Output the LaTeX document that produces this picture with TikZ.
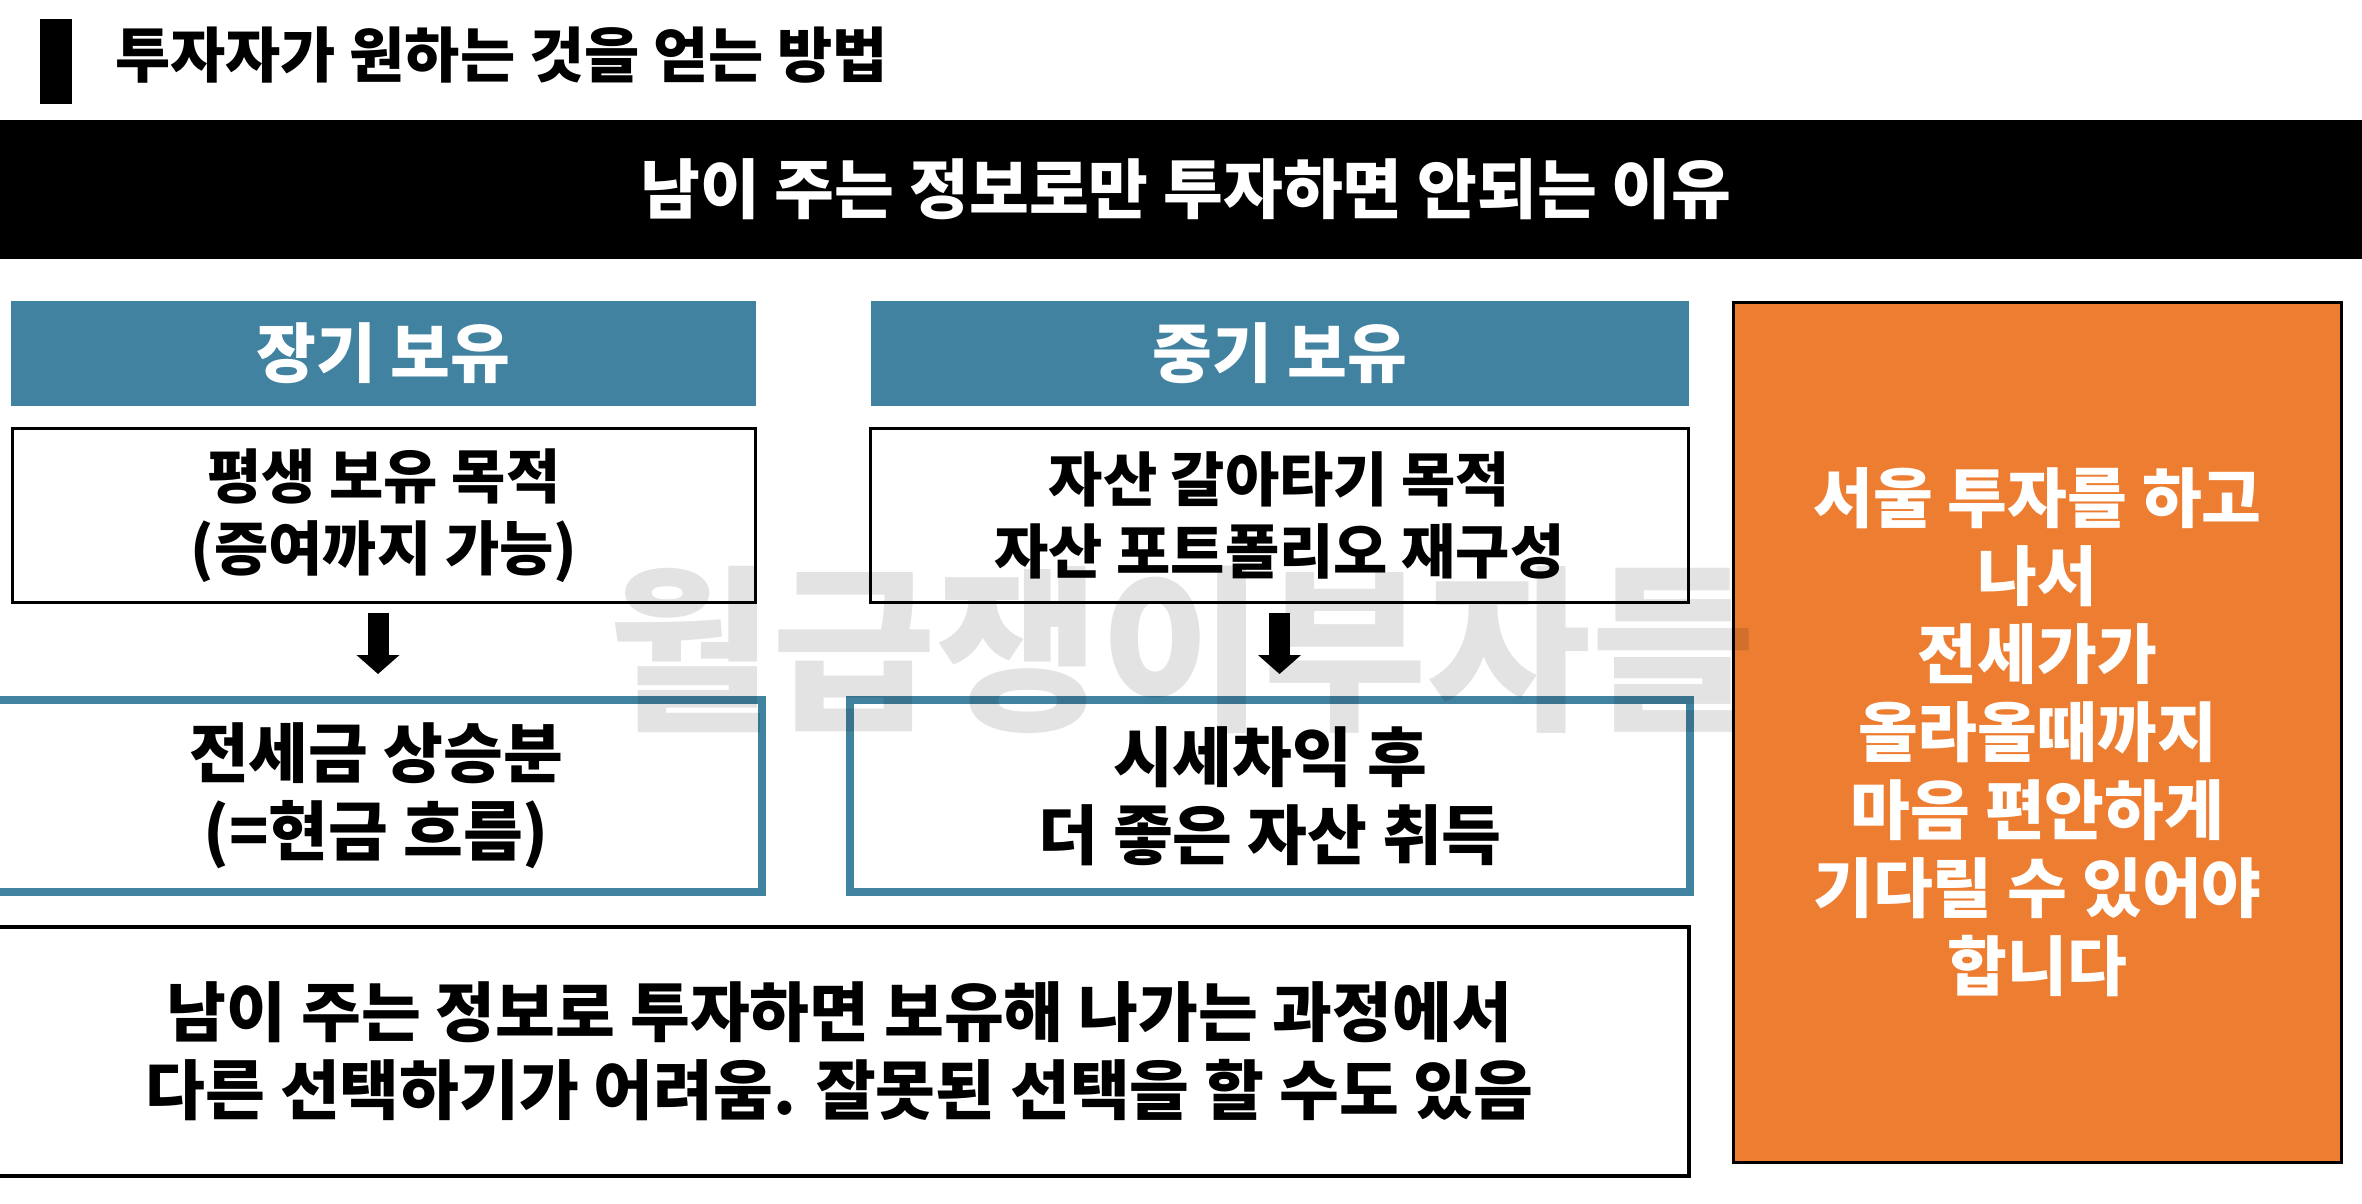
\documentclass[tikz,border=0pt]{standalone}
\usepackage{fontspec}
\setmainfont{Noto Sans CJK KR}
\usetikzlibrary{arrows.meta}
\definecolor{hdrblue}{RGB}{65,130,160}
\definecolor{boxorange}{RGB}{237,125,49}
\begin{document}
\begin{tikzpicture}[x=1pt,y=-1pt,
  bigtext/.style={font=\bfseries\fontsize{65pt}{78pt}\selectfont, align=center},
  midtext/.style={font=\bfseries\fontsize{59pt}{72pt}\selectfont, align=center},
  hdr/.style={fill=hdrblue, text=white, inner sep=0pt, minimum height=105pt, bigtext},
  purposebox/.style={draw=black, line width=3pt, fill=white, inner sep=0pt, minimum height=174pt, midtext},
  resultbox/.style={draw=hdrblue, line width=8pt, fill=white, inner sep=0pt, minimum height=192pt, bigtext},
  bigarrow/.style={line width=21pt, -{Triangle[width=42pt,length=19pt]}},
]
\useasboundingbox (0,0) rectangle (2362,1204);
\fill[white] (0,0) rectangle (2362,1204);

% title
\node[fill=black, minimum width=32pt, minimum height=85pt, inner sep=0pt] (bar) at (56,61.5) {};
\node[anchor=west, inner sep=0pt, font=\bfseries\fontsize{60pt}{60pt}\selectfont] (title) at (115,55) {투자자가 원하는 것을 얻는 방법};

% band
\node[fill=black, text=white, minimum width=2400pt, minimum height=139pt, inner sep=0pt, bigtext] (band) at (1186,189.5) {남이 주는 정보로만 투자하면 안되는 이유};

% headers
\node[hdr, minimum width=745pt] (hl) at (383.5,353.5) {장기 보유};
\node[hdr, minimum width=818pt] (hm) at (1280,353.5) {중기 보유};

% purpose boxes
\node[purposebox, minimum width=743pt] (b1) at (384,515.5) {평생 보유 목적\\(증여까지 가능)};
\node[purposebox, minimum width=818pt] (b3) at (1279.5,515.5) {자산 갈아타기 목적\\자산 포트폴리오 재구성};

% result boxes
\node[resultbox, minimum width=772pt] (b2) at (376,796) {전세금 상승분\\(=현금 흐름)};
\node[resultbox, minimum width=840pt] (b4) at (1270,796) {시세차익 후\\더 좋은 자산 취득};

% arrows
\draw[bigarrow, shorten <=8.5pt, shorten >=22pt] ([xshift=-6pt]b1.south) -- ([xshift=-6pt]b1.south |- b2.north);
\draw[bigarrow, shorten <=8.5pt, shorten >=22pt] (b3.south) -- (b3.south |- b4.north);

% bottom box
\node[draw=black, line width=3.5pt, fill=white, inner sep=0pt, minimum width=1699pt, minimum height=249pt, bigtext] (bot) at (839.5,1051.5) {남이 주는 정보로 투자하면 보유해 나가는 과정에서\\다른 선택하기가 어려움. 잘못된 선택을 할 수도 있음};

% orange box
\node[draw=black, line width=3pt, fill=boxorange, text=white, inner sep=0pt, minimum width=608pt, minimum height=860pt, bigtext] (ob) at (2037.5,732.5) {서울 투자를 하고\\나서\\전세가가\\올라올때까지\\마음 편안하게\\기다릴 수 있어야\\합니다};

% watermark
\node[opacity=0.11, inner sep=0pt, font=\bfseries\fontsize{178pt}{178pt}\selectfont] (wm) at (1182,650) {월급쟁이부자들};
\end{tikzpicture}
\end{document}
